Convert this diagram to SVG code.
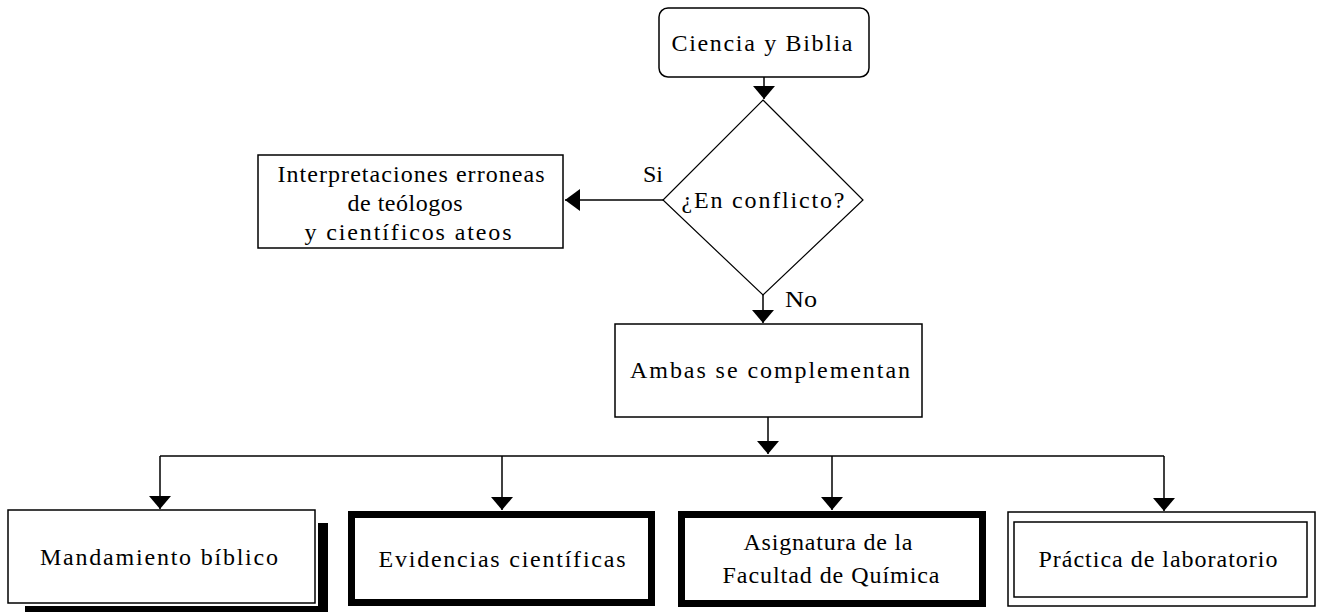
<svg xmlns="http://www.w3.org/2000/svg" width="1318" height="612" viewBox="0 0 1318 612">
<style>
text{font-family:"Liberation Serif","Times New Roman",serif;font-size:24px;fill:#000;text-anchor:middle}
.box{fill:#fff;stroke:#000;stroke-width:1.5}
.thick{fill:#fff;stroke:#000;stroke-width:7}
.ln{fill:none;stroke:#000;stroke-width:1.5}
</style>
<defs>
<marker id="arr" markerUnits="userSpaceOnUse" viewBox="0 0 13 22" markerWidth="13" markerHeight="22" refX="13" refY="11" orient="auto">
<path d="M0,0 L13,11 L0,22 Z" fill="#000"/>
</marker>
<marker id="arrL" markerUnits="userSpaceOnUse" viewBox="0 0 15 22" markerWidth="15" markerHeight="22" refX="15" refY="11" orient="auto">
<path d="M0,0 L15,11 L0,22 Z" fill="#000"/>
</marker>
</defs>
<rect width="1318" height="612" fill="#fff"/>
<g id="connectors">
<line class="ln" x1="764" y1="77" x2="764" y2="99" stroke-width="2" marker-end="url(#arr)"/>
<line class="ln" x1="663" y1="200" x2="565" y2="200" stroke-width="3" marker-end="url(#arrL)"/>
<line class="ln" x1="763" y1="295" x2="763" y2="323" stroke-width="2" marker-end="url(#arr)"/>
<line class="ln" x1="768" y1="417" x2="768" y2="454" marker-end="url(#arr)"/>
<line class="ln" x1="160" y1="456" x2="1164" y2="456"/>
<line class="ln" x1="160" y1="456" x2="160" y2="509" marker-end="url(#arr)"/>
<line class="ln" x1="502" y1="456" x2="502" y2="510" marker-end="url(#arr)"/>
<line class="ln" x1="832" y1="456" x2="832" y2="510" marker-end="url(#arr)"/>
<line class="ln" x1="1164" y1="456" x2="1164" y2="511" stroke-width="3" marker-end="url(#arr)"/>
<text x="653" y="182" textLength="20" lengthAdjust="spacingAndGlyphs">Si</text>
<text x="801" y="307" textLength="32" lengthAdjust="spacingAndGlyphs">No</text>
</g>
<g id="ciencia">
<rect class="box" x="659" y="8" width="210" height="69" rx="9" stroke-width="2"/>
<text x="762" y="51" textLength="181" lengthAdjust="spacing">Ciencia y Biblia</text>
</g>
<g id="conflicto">
<polygon points="763,100 863,200 763,295 663,200" fill="#fff" stroke="#000" stroke-width="1.2"/>
<text x="763" y="208" textLength="163" lengthAdjust="spacing">¿En conflicto?</text>
</g>
<g id="interpretaciones">
<rect class="box" x="258" y="155" width="305" height="93"/>
<text x="411" y="182" textLength="267" lengthAdjust="spacing">Interpretaciones erroneas</text>
<text x="405" y="211" textLength="115" lengthAdjust="spacing">de teólogos</text>
<text x="408" y="240" textLength="207" lengthAdjust="spacing">y científicos ateos</text>
</g>
<g id="ambas">
<rect class="box" x="615" y="324" width="307" height="93"/>
<text x="770" y="378" textLength="280" lengthAdjust="spacing">Ambas se complementan</text>
</g>
<g id="mandamiento">
<rect x="318" y="523" width="10" height="89" fill="#000"/>
<rect x="25" y="606" width="303" height="6" fill="#000"/>
<rect class="box" x="8" y="510" width="307" height="93"/>
<text x="159" y="565" textLength="238" lengthAdjust="spacing">Mandamiento bíblico</text>
</g>
<g id="evidencias">
<rect class="thick" x="351.5" y="514.5" width="300" height="88"/>
<text x="502" y="567" textLength="247" lengthAdjust="spacing">Evidencias científicas</text>
</g>
<g id="asignatura">
<rect class="thick" x="681.5" y="514.5" width="301" height="89"/>
<text x="828" y="550" textLength="169" lengthAdjust="spacing">Asignatura de la</text>
<text x="831" y="583" textLength="217" lengthAdjust="spacing">Facultad de Química</text>
</g>
<g id="practica">
<rect class="box" x="1008" y="512" width="307" height="94"/>
<rect class="box" x="1014" y="522" width="293" height="75" stroke-width="3"/>
<text x="1158" y="567" textLength="239" lengthAdjust="spacing">Práctica de laboratorio</text>
</g>
</svg>
